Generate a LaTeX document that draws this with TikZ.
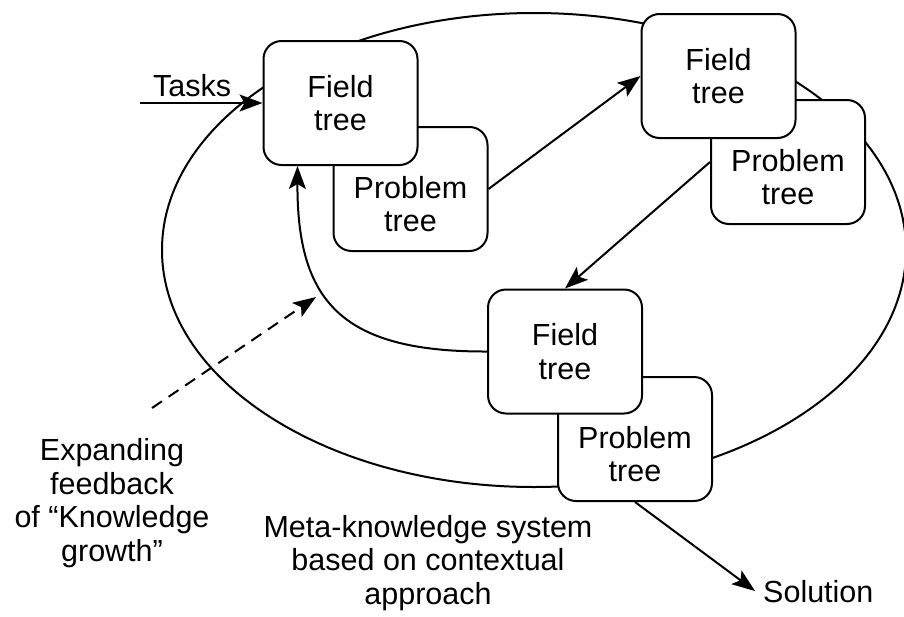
\documentclass[tikz,border=0pt]{standalone}
\usepackage{fontspec}
\setmainfont{Liberation Sans}
\usetikzlibrary{arrows.meta,calc}
\begin{document}
\begin{tikzpicture}[x=1pt,y=-1pt,
  font=\fontsize{30.5}{33.5}\selectfont,
  treebox/.style={draw, line width=2pt, rounded corners=18pt, fill=white,
    minimum width=154pt, minimum height=124pt, align=center, inner sep=0pt},
  conn/.style={line width=2pt, -{Stealth[length=23pt,width=17pt,inset=5pt]}},
  lbl/.style={align=center, inner sep=0pt}]
\useasboundingbox (0,0) rectangle (904,616);
% ellipse
\draw[line width=2pt] (534,250) ellipse [x radius=372pt, y radius=237pt];
% boxes
\node[treebox] (pA) at (410.5,189) {};
\node[treebox] (fA) at (340.5,103) {Field\\tree};
\node[treebox] (pB) at (788,162) {};
\node[treebox] (fB) at (718.5,76) {Field\\tree};
\node[treebox] (pC) at (635,439) {};
\node[treebox] (fC) at (565,351.5) {Field\\tree};
% problem labels (lower, visible part of each problem box)
\node[lbl] (pAt) at ([yshift=-15pt]pA.center) {Problem\\tree};
\node[lbl] (pBt) at ([yshift=-15pt]pB.center) {Problem\\tree};
\node[lbl] (pCt) at ([yshift=-15pt]pC.center) {Problem\\tree};
% coordinates
\coordinate (tasksin) at (140,103);
\coordinate (fbstart) at (152,408);
\coordinate (fbend) at (316,297);
\coordinate (solend) at (755,591);
% labels
\node[lbl] (tasks) at (192,86) {Tasks};
\node[lbl, anchor=west] (sol) at (763,592) {Solution};
\node[lbl] (feedback) at (112,503) {Expanding\\feedback\\of “Knowledge\\growth”};
\node[lbl] (meta) at (428,563) {Meta-knowledge system\\based on contextual\\approach};
% connectors
\draw[conn] (tasksin) -- (fA.west);
\draw[conn] (pA.east) -- (fB.west);
\draw[conn] (pB.west) -- (fC.north);
\draw[conn] (fC.west) .. controls (340,352) and (297,300) .. ([xshift=-43pt]fA.south);
\draw[conn, dashed, dash pattern=on 12pt off 8pt] (fbstart) -- (fbend);
\draw[conn] (pC.south) -- (solend);
\end{tikzpicture}
\end{document}
